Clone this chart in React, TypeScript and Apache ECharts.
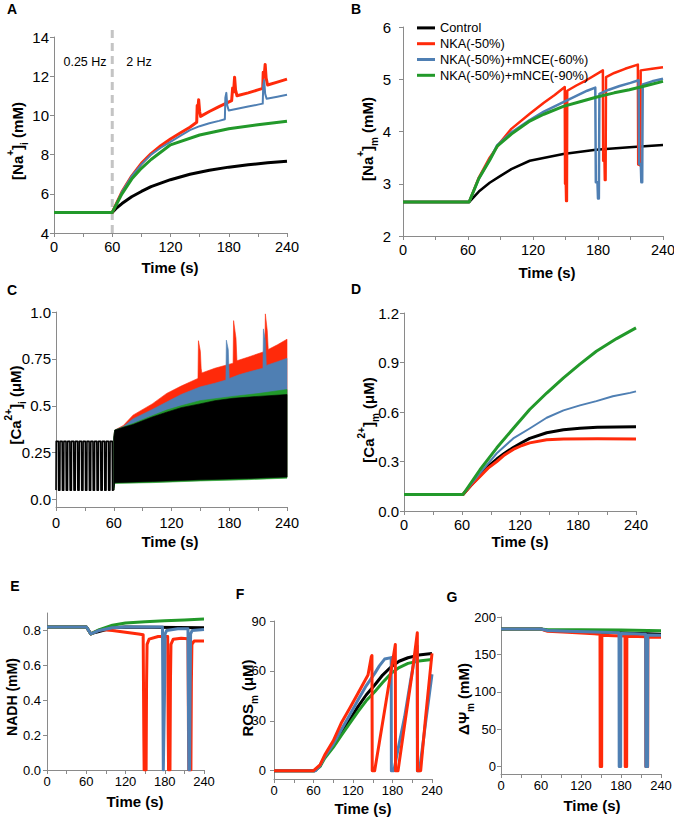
import React, { useEffect, useRef } from 'react';
import * as echarts from 'echarts';

const FONT = '"Liberation Sans", Arial, sans-serif';
const RED = '#ff2a0a';
const BLUE = '#4f7fb3';
const GREEN = '#22992a';
const BLACK = '#000000';
const AXIS = '#8a8a8a';

const NAMES = ['Control', 'NKA(-50%)', 'NKA(-50%)+mNCE(-60%)', 'NKA(-50%)+mNCE(-90%)'];

const timeTicks = [0, 30, 60, 90, 120, 150, 180, 210, 240];
const timeLabels = [0, 60, 120, 180, 240];

// ---- Panel A: [Na+]i (mM)
const naiControl = [[0,5.05],[60,5.05],[65,5.3],[70,5.5],[80,5.85],[90,6.12],[100,6.37],[120,6.72],[140,7.0],[160,7.2],[180,7.36],[200,7.48],[220,7.58],[240,7.66]];
const naiNka = [[0,5.05],[60,5.05],[70,6.1],[80,6.9],[90,7.55],[100,8.05],[110,8.45],[120,8.8],[130,9.1],[140,9.4],[147,9.65],[147.5,10.5],[148.2,10.3],[149,10.8],[150,10.2],[151,9.95],[160,10.2],[170,10.45],[183,10.75],[184,11.4],[185,11.2],[186,11.95],[187,11.3],[188.5,11.0],[200,11.15],[210,11.3],[215,11.38],[215.5,12.2],[216.5,12.0],[217.5,12.6],[218.5,11.9],[220,11.55],[230,11.7],[240,11.85]];
const naiNce60 = [[0,5.05],[60,5.05],[70,6.1],[80,6.9],[90,7.5],[100,8.0],[110,8.35],[120,8.65],[130,8.95],[140,9.25],[150,9.45],[160,9.6],[170,9.72],[176,9.8],[176.5,10.9],[177.5,11.15],[178.5,10.5],[180,10.25],[190,10.35],[200,10.45],[210,10.55],[215,10.6],[215.5,11.5],[216.5,11.8],[217.5,11.1],[219,10.85],[230,10.95],[240,11.05]];
const naiNce90 = [[0,5.05],[60,5.05],[70,6.0],[80,6.75],[90,7.3],[100,7.75],[120,8.5],[150,9.0],[180,9.32],[210,9.52],[240,9.7]];
const naiStim = [[60,4],[60,14.4]];

// ---- Panel B: [Na+]m (mM)
const namControl = [[0,2.65],[61,2.65],[70,2.85],[80,3.02],[90,3.15],[100,3.28],[117,3.44],[148,3.57],[178,3.65],[209,3.7],[240,3.74]];
const namNka = [[0,2.65],[61,2.65],[70,3.12],[80,3.5],[90,3.8],[100,4.05],[117,4.34],[130,4.55],[140,4.7],[149.3,4.85],[149.6,3.0],[150.3,3.0],[150.6,2.67],[151.3,2.67],[151.6,4.78],[160,4.88],[170,4.99],[184.5,5.17],[184.8,3.44],[186,3.44],[186.3,3.07],[187,3.07],[187.4,5.04],[195,5.12],[205,5.2],[216.8,5.28],[217.1,3.37],[219,3.35],[219.4,5.17],[230,5.2],[240,5.23]];
const namNce60 = [[0,2.65],[61,2.65],[70,3.1],[80,3.46],[87,3.74],[100,3.98],[117,4.22],[130,4.38],[148,4.56],[160,4.68],[170,4.78],[177.5,4.84],[178,3.03],[179.5,3.03],[180,2.72],[180.8,2.72],[181.3,4.72],[190,4.8],[200,4.87],[210,4.93],[217.5,4.98],[218,3.38],[219.5,3.38],[220,3.03],[220.8,3.03],[221.3,4.9],[230,4.96],[240,5.01]];
const namNce90 = [[0,2.65],[61,2.65],[70,3.1],[80,3.45],[87,3.72],[100,3.95],[117,4.2],[130,4.33],[148,4.48],[165,4.58],[179,4.66],[195,4.74],[209,4.8],[225,4.88],[240,4.96]];

// ---- Panel C: [Ca2+]i (uM)
const caiBeatTimes = [0,4,8,12,16,20,24,28,32,36,40,44,48,52,56];
const caiBeatPeak = 0.31;
const caiBeatRest = 0.05;
const caiControlUpper = [[60,0.33],[61,0.37],[70,0.385],[80,0.4],[100,0.44],[115,0.466],[130,0.49],[149.5,0.51],[165,0.527],[184,0.54],[210,0.55],[240,0.56]];
const caiControlLower = [[60,0.05],[61,0.09],[100,0.096],[150,0.105],[200,0.112],[240,0.12]];
const caiNce90Upper = [[60,0.33],[61,0.37],[70,0.387],[80,0.405],[100,0.447],[115,0.477],[130,0.5],[149.5,0.527],[184,0.55],[210,0.565],[240,0.587]];
const caiNce90Lower = [[60,0.05],[61,0.086],[100,0.09],[150,0.099],[200,0.106],[240,0.114]];
const caiNce60Upper = [[60,0.33],[61,0.37],[70,0.39],[80,0.43],[100,0.48],[115,0.52],[130,0.56],[149.5,0.6],[165,0.62],[176.5,0.637],[177,0.85],[179,0.8],[180,0.645],[190,0.665],[200,0.68],[215,0.7],[215.5,0.91],[217.5,0.85],[218.5,0.715],[230,0.735],[240,0.753]];
const caiNkaUpper = [[60,0.33],[61,0.37],[70,0.395],[80,0.45],[100,0.51],[115,0.566],[130,0.605],[147.5,0.646],[148,0.847],[150,0.79],[150.8,0.7],[151.5,0.675],[165,0.7],[184,0.727],[184.5,0.954],[187,0.86],[188,0.74],[200,0.76],[217,0.79],[217.5,0.99],[219.5,0.9],[220.5,0.8],[230,0.825],[240,0.855]];
const caiYTicks = [0, 0.25, 0.5, 0.75, 1];
const caiYLabels = ['0.0', '0.25', '0.5', '0.75', '1.0'];

// ---- Panel D: [Ca2+]m (uM)
const camControl = [[0,0.1],[61,0.1],[70,0.16],[78.6,0.215],[87,0.27],[96,0.315],[104,0.35],[113,0.385],[122,0.415],[130,0.44],[147.6,0.474],[165,0.492],[182,0.502],[200,0.507],[240,0.51]];
const camNka = [[0,0.1],[61,0.1],[70,0.16],[78.6,0.21],[87,0.26],[96,0.3],[104,0.34],[113,0.373],[122,0.397],[130,0.413],[147.6,0.432],[165,0.437],[200,0.438],[240,0.437]];
const camNce60 = [[0,0.1],[61,0.1],[78.6,0.23],[96,0.35],[113,0.44],[130,0.5],[147.6,0.565],[165,0.61],[182,0.64],[199,0.666],[216,0.695],[233.8,0.716],[240,0.725]];
const camNce90 = [[0,0.1],[61,0.1],[78.6,0.25],[96,0.383],[113,0.5],[130,0.615],[147.6,0.715],[165,0.807],[182,0.89],[199,0.968],[220,1.045],[240,1.11]];

// ---- Panel E: NADH (mM)
const nadhControl = [[0,0.82],[60,0.82],[62,0.81],[67,0.78],[75,0.79],[85,0.8],[100,0.815],[120,0.82],[240,0.815]];
const nadhNka = [[0,0.82],[60,0.82],[62,0.81],[67,0.78],[75,0.795],[82,0.805],[100,0.8],[120,0.79],[140,0.78],[147,0.775],[148,0.2],[148.5,0],[151.5,0],[152.2,0.5],[153,0.72],[156,0.75],[170,0.765],[184.5,0.765],[185.3,0.2],[185.8,0],[188,0],[188.7,0.5],[189.5,0.72],[193,0.75],[205,0.755],[215.5,0.752],[216.3,0.2],[216.8,0],[220,0],[220.7,0.5],[221.5,0.72],[225,0.74],[240,0.74]];
const nadhNce60 = [[0,0.82],[60,0.82],[62,0.81],[67,0.78],[80,0.8],[100,0.815],[120,0.82],[176.5,0.82],[177.2,0.4],[177.8,0],[178.8,0],[179.5,0.4],[180.5,0.78],[183,0.8],[200,0.81],[215.5,0.81],[216.2,0.4],[216.8,0],[218,0],[218.7,0.4],[219.5,0.78],[222,0.8],[240,0.805]];
const nadhNce90 = [[0,0.82],[60,0.82],[62,0.81],[67,0.78],[80,0.805],[100,0.83],[120,0.843],[150,0.85],[180,0.855],[210,0.86],[240,0.865]];
const nadhYTicks = [0, 0.2, 0.4, 0.6, 0.8];

// ---- Panel F: ROSm (uM)
const rosControl = [[0,0],[62,0],[70,3],[77,8.4],[90,15],[102,22.4],[115,30.5],[127.6,38.5],[140,45.5],[153,51.5],[165,57.5],[178,62.5],[190,65.8],[203.5,67.9],[220,69.5],[240,70.5]];
const rosNka = [[0,0],[60,0],[70,3.5],[77,9.4],[90,18],[102,28.5],[115,37.5],[127.6,46.5],[142.8,57.5],[147.8,68.5],[148.8,69.2],[149.2,0],[152.9,0],[160,17],[170,41],[184.3,75.9],[184.6,0],[188.4,0],[200,32],[210,59],[217.7,83],[218,0],[222.8,0],[230,31],[240,70.5]];
const rosNce60 = [[0,0],[63,0],[70,3],[77,8.5],[90,16],[102,24.4],[115,33.5],[127.6,42.5],[140,51],[153,58.5],[160,63],[168,67.1],[178,68],[178.3,0],[182,0],[190,16],[198.5,32.5],[207,53],[216,73.5],[217.5,75],[217.8,0],[221,0],[230,28],[240,58]];
const rosNce90 = [[0,0],[62,0],[70,2.5],[77,7.5],[90,14],[102,21],[115,28.5],[127.6,35.5],[140,42],[153,47.5],[165,53],[178,58.5],[190,62],[203.5,64.5],[220,66],[240,66.9]];
const rosYTicks = [0, 30, 60, 90];

// ---- Panel G: delta Psi m
const psiControl = [[0,184],[60,184],[70,182],[100,181],[140,180],[180,179],[240,177]];
const psiNka = [[0,184],[60,184],[70,181],[100,179.5],[140,177.5],[148.5,177],[148.8,0],[151,0],[151.3,175.5],[170,175],[186,174.5],[186.3,0],[188.5,0],[188.8,174],[205,173.8],[217,173.5],[217.3,0],[220,0],[220.3,173],[240,173]];
const psiNce60 = [[0,184],[60,184],[70,182],[100,181],[140,180],[177,179],[177.3,0],[179.5,0],[179.8,178],[200,177.5],[217,177],[217.3,0],[219.8,0],[220.1,176],[240,175.5]];
const psiNce90 = [[0,184],[60,184],[70,183],[120,183],[180,182.5],[240,181.5]];
const psiYTicks = [0, 50, 100, 150, 200];

// layout of the seven plot areas
const GRIDS = [
  { left: 54, top: 37, width: 233, height: 196 },
  { left: 403, top: 27, width: 260, height: 209 },
  { left: 56, top: 312, width: 231, height: 195 },
  { left: 404, top: 313, width: 232, height: 198 },
  { left: 47, top: 613, width: 157, height: 157 },
  { left: 274, top: 621, width: 158, height: 158 },
  { left: 501, top: 617, width: 160, height: 157 },
];

function xAxis(i: number, fontSize: number, margin: number) {
  return {
    type: 'value', gridIndex: i, min: 0, max: 240, interval: 30,
    axisLine: { show: true, onZero: false, lineStyle: { color: AXIS, width: 1 } },
    axisTick: { show: true, length: 4, customValues: timeTicks, lineStyle: { color: AXIS } },
    axisLabel: { customValues: timeLabels, fontSize, margin, color: '#000', fontFamily: FONT },
    splitLine: { show: false },
  };
}

function yAxis(i: number, min: number, max: number, ticks: number[], fontSize: number, margin: number, fmt: (v: number) => string) {
  return {
    type: 'value', gridIndex: i, min, max,
    axisLine: { show: true, onZero: false, lineStyle: { color: AXIS, width: 1 } },
    axisTick: { show: true, length: 4, customValues: ticks, lineStyle: { color: AXIS } },
    axisLabel: { customValues: ticks, fontSize, margin, color: '#000', fontFamily: FONT, formatter: fmt },
    splitLine: { show: false },
  };
}

function line(name: string | undefined, data: number[][], idx: number, color: string, width: number, extra: any = {}) {
  return {
    type: 'line', name, data, xAxisIndex: idx, yAxisIndex: idx,
    showSymbol: false, symbol: 'none', color,
    lineStyle: { color, width, join: 'round' }, itemStyle: { color },
    silent: true, ...extra,
  };
}

function band(upper: number[][], lower: number[][], color: string) {
  return {
    type: 'custom', xAxisIndex: 2, yAxisIndex: 2, data: [[60, 0.2]], silent: true,
    renderItem: (_p: any, api: any) => {
      const pts = upper.map((p) => api.coord(p)).concat(lower.slice().reverse().map((p) => api.coord(p)));
      return { type: 'polygon', shape: { points: pts }, style: { fill: color, stroke: color, lineWidth: 0.6 } };
    },
  };
}

const caiEarly: number[][] = [];
caiBeatTimes.forEach((t) => {
  caiEarly.push([t, caiBeatRest], [t + 0.2, caiBeatPeak], [t + 2.4, caiBeatPeak], [t + 2.7, caiBeatRest], [t + 4, caiBeatRest]);
});

const bRich = (size: number) => ({
  b: { fontSize: size, fontWeight: 'bold', fontFamily: FONT, fill: '#000', lineHeight: size + 9 },
  sup: { fontSize: Math.round(size * 0.68), fontWeight: 'bold', fontFamily: FONT, verticalAlign: 'top', fill: '#000' },
  sub: { fontSize: Math.round(size * 0.68), fontWeight: 'bold', fontFamily: FONT, verticalAlign: 'bottom', fill: '#000' },
});

function yTitle(x: number, y: number, text: string, size: number) {
  return {
    type: 'text', x, y, rotation: Math.PI / 2, silent: true,
    style: { text, rich: bRich(size), align: 'center', verticalAlign: 'middle', fill: '#000', font: `bold ${size}px ${FONT}` },
  };
}
function plainText(x: number, y: number, text: string, size: number, bold: boolean, align = 'center') {
  return {
    type: 'text', x, y, silent: true,
    style: { text, align, verticalAlign: 'middle', fill: '#000', fontSize: size, fontWeight: bold ? 'bold' : 'normal', fontFamily: FONT },
  };
}

const fmt1 = (v: number) => v.toFixed(1);
const fmt0 = (v: number) => String(Math.round(v));

const option: any = {
  animation: false,
  backgroundColor: '#ffffff',
  grid: GRIDS.map((g) => ({ ...g, containLabel: false, outerBoundsMode: 'none' })),
  xAxis: [
    xAxis(0, 14.5, 6), xAxis(1, 14.5, 6), xAxis(2, 14.5, 8), xAxis(3, 14.5, 6),
    xAxis(4, 13, 5), xAxis(5, 13, 5), xAxis(6, 13, 5),
  ],
  yAxis: [
    yAxis(0, 4, 14, [4, 6, 8, 10, 12, 14], 15, 5, fmt0),
    yAxis(1, 2, 6, [2, 3, 4, 5, 6], 15, 12, fmt0),
    yAxis(2, -0.04, 1, caiYTicks, 15, 5, (v: number) => caiYLabels[caiYTicks.indexOf(v)] ?? String(v)),
    yAxis(3, 0, 1.2, [0, 0.3, 0.6, 0.9, 1.2], 15, 5, fmt1),
    yAxis(4, 0, 0.9, nadhYTicks, 13, 6, fmt1),
    yAxis(5, -5, 90, rosYTicks, 13, 8, fmt0),
    yAxis(6, -10, 200, psiYTicks, 13, 5, fmt0),
  ],
  legend: {
    data: NAMES, orient: 'vertical', left: 412, top: 15, itemWidth: 18, itemHeight: 3, itemGap: 0,
    icon: 'rect', selectedMode: false,
    textStyle: { fontSize: 12.8, lineHeight: 15.8, fontFamily: FONT, color: '#000' },
  },
  series: [
    // A
    line(undefined, naiStim, 0, '#c4c4c4', 3, { clip: false, lineStyle: { color: '#c4c4c4', width: 3, type: [8, 5] } }),
    line(NAMES[0], naiControl, 0, BLACK, 3),
    line(NAMES[1], naiNka, 0, RED, 3),
    line(NAMES[2], naiNce60, 0, BLUE, 2),
    line(NAMES[3], naiNce90, 0, GREEN, 3),
    // B
    line(NAMES[0], namControl, 1, BLACK, 2.5),
    line(NAMES[1], namNka, 1, RED, 2.5),
    line(NAMES[2], namNce60, 1, BLUE, 2.5),
    line(NAMES[3], namNce90, 1, GREEN, 3),
    // C
    band(caiNkaUpper, caiControlLower, RED),
    band(caiNce60Upper, caiControlLower, BLUE),
    band(caiNce90Upper, caiNce90Lower, GREEN),
    band(caiControlUpper, caiControlLower, BLACK),
    line(undefined, caiEarly, 2, BLACK, 1.6),
    // D
    line(NAMES[0], camControl, 3, BLACK, 3),
    line(NAMES[1], camNka, 3, RED, 3),
    line(NAMES[2], camNce60, 3, BLUE, 2),
    line(NAMES[3], camNce90, 3, GREEN, 3),
    // E
    line(NAMES[0], nadhControl, 4, BLACK, 3),
    line(NAMES[1], nadhNka, 4, RED, 3),
    line(NAMES[3], nadhNce90, 4, GREEN, 3),
    line(NAMES[2], nadhNce60, 4, BLUE, 3),
    // F
    line(NAMES[0], rosControl, 5, BLACK, 3),
    line(NAMES[3], rosNce90, 5, GREEN, 3),
    line(NAMES[2], rosNce60, 5, BLUE, 3),
    line(NAMES[1], rosNka, 5, RED, 3),
    // G
    line(NAMES[0], psiControl, 6, BLACK, 3),
    line(NAMES[1], psiNka, 6, RED, 3),
    line(NAMES[3], psiNce90, 6, GREEN, 3),
    line(NAMES[2], psiNce60, 6, BLUE, 3),
  ],
  graphic: [
    plainText(12, 9, 'A', 14, true),
    plainText(356, 9, 'B', 14, true),
    plainText(12, 290, 'C', 14, true),
    plainText(356, 289, 'D', 14, true),
    plainText(15, 586, 'E', 14, true),
    plainText(240, 594, 'F', 14, true),
    plainText(452, 597, 'G', 14, true),
    plainText(85, 62, '0.25 Hz', 12.5, false),
    plainText(139, 62, '2 Hz', 12.5, false),
    plainText(170, 267, 'Time (s)', 15, true),
    plainText(547, 272, 'Time (s)', 15, true),
    plainText(170, 541, 'Time (s)', 15, true),
    plainText(520, 541, 'Time (s)', 15, true),
    plainText(135, 801, 'Time (s)', 15, true),
    plainText(363, 808, 'Time (s)', 15, true),
    plainText(592, 805, 'Time (s)', 15, true),
    yTitle(17, 141, '{b|[Na}{sup|+}{b|]}{sub|i}{b| (mM)}', 15),
    yTitle(367, 139, '{b|[Na}{sup|+}{b|]}{sub|m}{b| (mM)}', 15),
    yTitle(15, 405, '{b|[Ca}{sup|2+}{b|]}{sub|i}{b| (μM)}', 15),
    yTitle(368, 420, '{b|[Ca}{sup|2+}{b|]}{sub|m}{b| (μM)}', 15),
    yTitle(12, 697, '{b|NADH (mM)}', 14),
    yTitle(247, 698, '{b|ROS}{sub|m}{b| (μM)}', 15),
    yTitle(463, 699, '{b|ΔΨ}{sub|m}{b| (mM)}', 15),
  ],
};

export default function App() {
  const ref = useRef<HTMLDivElement>(null);
  useEffect(() => {
    document.body.style.margin = '0';
    const chart = echarts.init(ref.current!, null, { renderer: 'svg' });
    chart.setOption(option);
    return () => chart.dispose();
  }, []);
  return <div ref={ref} style={{ width: 674, height: 819, background: '#fff' }} />;
}
